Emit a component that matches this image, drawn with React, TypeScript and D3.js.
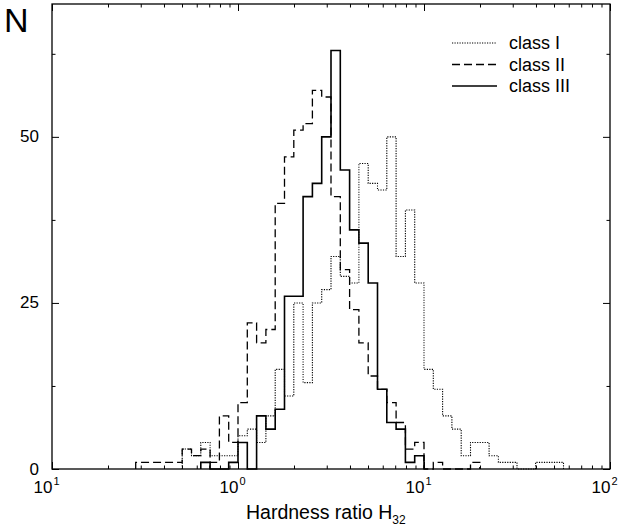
import React, { useEffect, useRef } from "react";
import * as d3 from "d3";

// histogram bins are 0.05 dex wide, first bin starts at log10(H32) = -0.55
const binStartLog = -0.55;
const binStepLog = 0.05;

// counts per bin (same bins for every class)
const classI = [
  0, 0, 0, 0, 0, 3, 2, 4, 2, 2, 2, 5, 6, 4, 8, 15, 11, 25, 13, 25, 27, 32, 29,
  28, 46, 43, 42, 50, 32, 39, 28, 15, 12, 8, 6, 2, 4, 4, 2, 1, 1, 0, 0, 1, 1, 1,
];
const classII = [
  1, 1, 1, 1, 1, 3, 2, 3, 1, 8, 4, 10, 22, 19, 21, 40, 47, 51, 52, 57, 56, 41,
  30, 24, 19, 14, 12, 10, 7, 3, 4, 0, 1, 0, 0, 0, 1, 0, 0, 0, 0, 0, 0, 0, 0, 0,
];
const classIII = [
  0, 0, 0, 0, 0, 0, 0, 1, 0, 0, 1, 4, 0, 8, 6, 9, 26, 26, 41, 43, 50, 63, 45,
  36, 34, 28, 12, 7, 6, 1, 2, 0, 0, 0, 0, 0, 0, 0, 0, 0, 0, 0, 0, 0, 0, 0,
];

const seriesNames = ["class I", "class II", "class III"];
const xMajor = [0.1, 1, 10, 100];
const xMajorSup = ["1", "0", "1", "2"];
const yMajor = [0, 25, 50];
const yMinor = [12.5, 37.5, 62.5];

const FONT = "'Liberation Sans', Arial, Helvetica, sans-serif";

const App = () => {
  const ref = useRef<SVGSVGElement>(null);

  useEffect(() => {
    const width = 622;
    const height = 527;
    const margin = { top: 4, right: 12, bottom: 58, left: 52 };

    const svg = d3.select(ref.current);
    svg.selectAll("*").remove();

    const x = d3
      .scaleLog()
      .domain([0.1, 100])
      .range([margin.left, width - margin.right]);
    const y = d3
      .scaleLinear()
      .domain([0, 70])
      .range([height - margin.bottom, margin.top]);

    const xMinor: number[] = [];
    [0.1, 1, 10].forEach((d) => {
      for (let m = 2; m <= 9; m++) xMinor.push(d * m);
    });

    // ticks on all four sides, pointing inwards
    const tickAxis = (axis: any, transform: string) =>
      svg
        .append("g")
        .attr("transform", transform)
        .call(axis)
        .call((g: any) => g.select(".domain").remove())
        .call((g: any) =>
          g.selectAll("line").attr("stroke", "#000").attr("stroke-width", 1)
        );

    const bottom = height - margin.bottom;
    const right = width - margin.right;
    tickAxis(
      d3.axisBottom(x).tickValues(xMajor).tickSize(-7).tickFormat(() => ""),
      `translate(0,${bottom})`
    );
    tickAxis(
      d3.axisBottom(x).tickValues(xMinor).tickSize(-3.5).tickFormat(() => ""),
      `translate(0,${bottom})`
    );
    tickAxis(
      d3.axisTop(x).tickValues(xMajor).tickSize(-7).tickFormat(() => ""),
      `translate(0,${margin.top})`
    );
    tickAxis(
      d3.axisTop(x).tickValues(xMinor).tickSize(-3.5).tickFormat(() => ""),
      `translate(0,${margin.top})`
    );
    tickAxis(
      d3.axisLeft(y).tickValues(yMajor).tickSize(-7).tickFormat(() => ""),
      `translate(${margin.left},0)`
    );
    tickAxis(
      d3.axisLeft(y).tickValues(yMinor).tickSize(-3.5).tickFormat(() => ""),
      `translate(${margin.left},0)`
    );
    tickAxis(
      d3.axisRight(y).tickValues(yMajor).tickSize(-7).tickFormat(() => ""),
      `translate(${right},0)`
    );
    tickAxis(
      d3.axisRight(y).tickValues(yMinor).tickSize(-3.5).tickFormat(() => ""),
      `translate(${right},0)`
    );

    // histograms
    const edges = d3
      .range(classI.length + 1)
      .map((i) => 10 ** (binStartLog + i * binStepLog));

    const stepPath = (counts: number[]) => {
      let lo = counts.findIndex((c) => c > 0);
      let hi = counts.length - 1;
      while (hi > lo && counts[hi] === 0) hi--;
      const pts: [number, number][] = [[edges[lo], 0]];
      for (let i = lo; i <= hi; i++) pts.push([edges[i], counts[i]]);
      pts.push([edges[hi + 1], 0]);
      return d3
        .line<[number, number]>()
        .x((d) => x(d[0]))
        .y((d) => y(d[1]))
        .curve(d3.curveStepAfter)(pts);
    };

    const styles = [
      { dash: "1.2,1.3", w: 1.1 },
      { dash: "8,4", w: 1.3 },
      { dash: null, w: 1.6 },
    ];
    [classI, classII, classIII].forEach((counts, i) => {
      svg
        .append("path")
        .attr("d", stepPath(counts))
        .attr("fill", "none")
        .attr("stroke", "#000")
        .attr("stroke-width", styles[i].w)
        .attr("stroke-dasharray", styles[i].dash);
    });

    // frame
    svg
      .append("rect")
      .attr("x", margin.left)
      .attr("y", margin.top)
      .attr("width", right - margin.left)
      .attr("height", bottom - margin.top)
      .attr("fill", "none")
      .attr("stroke", "#000")
      .attr("stroke-width", 1.3);

    // y labels
    svg
      .append("g")
      .selectAll("text")
      .data(yMajor)
      .join("text")
      .attr("x", margin.left - 13)
      .attr("y", (d) => y(d) + 5.5)
      .attr("text-anchor", "end")
      .attr("font-family", FONT)
      .attr("font-size", 17)
      .text((d) => d);

    // x labels 10^n
    const xl = svg.append("g").attr("font-family", FONT);
    xMajor.forEach((d, i) => {
      xl.append("text")
        .attr("x", x(d) + 0.5)
        .attr("y", bottom + 24)
        .attr("text-anchor", "end")
        .attr("font-size", 17)
        .text("10");
      xl.append("text")
        .attr("x", x(d) + 1.5)
        .attr("y", bottom + 16)
        .attr("font-size", 11)
        .text(xMajorSup[i]);
    });

    // axis titles
    const xt = svg
      .append("text")
      .attr("x", 246)
      .attr("y", 519)
      .attr("font-family", FONT)
      .attr("font-size", 19.5);
    xt.append("tspan").text("Hardness ratio H");
    xt.append("tspan").attr("font-size", 12).attr("dy", 5).text("32");

    svg
      .append("text")
      .attr("x", 4)
      .attr("y", 32)
      .attr("font-family", FONT)
      .attr("font-size", 34)
      .text("N");

    // legend
    const legend = svg.append("g").attr("font-family", FONT);
    seriesNames.forEach((name, i) => {
      const ly = 43 + i * 21.5;
      legend
        .append("line")
        .attr("x1", 452)
        .attr("x2", 497)
        .attr("y1", ly)
        .attr("y2", ly)
        .attr("stroke", "#000")
        .attr("stroke-width", styles[i].w)
        .attr("stroke-dasharray", styles[i].dash);
      legend
        .append("text")
        .attr("x", 509)
        .attr("y", ly + 6)
        .attr("font-size", 18)
        .text(name);
    });
  }, []);

  return (
    <svg
      ref={ref}
      width={622}
      height={527}
      style={{ position: "absolute", left: 0, top: 0, background: "#fff" }}
    />
  );
};

export default App;
